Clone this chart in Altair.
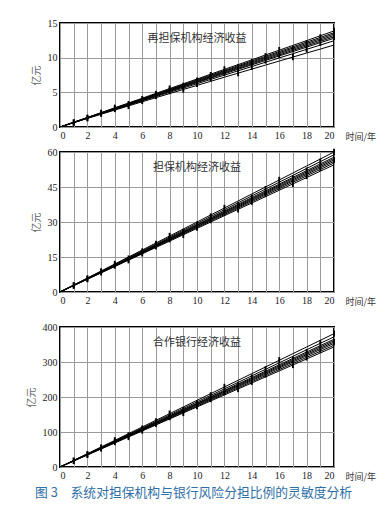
import altair as alt
import pandas as pd

years = list(range(21))

# Panel 1: 再担保机构经济收益 (亿元)
p1_series = [
    [0, 0.62, 1.24, 1.84, 2.44, 3.04, 3.64, 4.23, 4.82, 5.41, 6.00, 6.59, 7.18, 7.77, 8.35, 8.93, 9.51, 10.09, 10.67, 11.24, 11.82],
    [0, 0.63, 1.26, 1.89, 2.52, 3.14, 3.76, 4.38, 5.00, 5.62, 6.24, 6.86, 7.48, 8.10, 8.72, 9.34, 9.96, 10.58, 11.20, 11.82, 12.44],
    [0, 0.64, 1.28, 1.92, 2.56, 3.20, 3.84, 4.48, 5.12, 5.76, 6.40, 7.04, 7.68, 8.32, 8.96, 9.60, 10.24, 10.88, 11.52, 12.16, 12.80],
    [0, 0.65, 1.30, 1.95, 2.60, 3.25, 3.90, 4.55, 5.20, 5.85, 6.50, 7.15, 7.80, 8.45, 9.10, 9.75, 10.40, 11.05, 11.70, 12.35, 13.00],
    [0, 0.66, 1.32, 1.98, 2.64, 3.30, 3.96, 4.62, 5.28, 5.94, 6.60, 7.26, 7.92, 8.58, 9.24, 9.90, 10.56, 11.22, 11.88, 12.54, 13.20],
    [0, 0.67, 1.34, 2.01, 2.68, 3.35, 4.02, 4.69, 5.36, 6.03, 6.70, 7.37, 8.04, 8.71, 9.38, 10.05, 10.72, 11.39, 12.06, 12.73, 13.40],
    [0, 0.68, 1.36, 2.04, 2.72, 3.40, 4.08, 4.76, 5.44, 6.12, 6.80, 7.48, 8.16, 8.84, 9.52, 10.20, 10.88, 11.56, 12.24, 12.92, 13.60],
    [0, 0.69, 1.38, 2.08, 2.77, 3.46, 4.15, 4.85, 5.54, 6.23, 6.92, 7.62, 8.31, 9.00, 9.69, 10.39, 11.08, 11.77, 12.46, 13.16, 13.85],
]

# Panel 2: 担保机构经济收益 (亿元)
p2_series = [
    [0, 2.73, 5.45, 8.18, 10.90, 13.63, 16.35, 19.08, 21.80, 24.53, 27.25, 29.98, 32.70, 35.43, 38.15, 40.88, 43.60, 46.33, 49.05, 51.78, 54.50],
    [0, 2.77, 5.53, 8.30, 11.06, 13.83, 16.59, 19.36, 22.12, 24.89, 27.65, 30.42, 33.18, 35.95, 38.71, 41.48, 44.24, 47.01, 49.77, 52.54, 55.30],
    [0, 2.80, 5.60, 8.40, 11.20, 14.00, 16.80, 19.60, 22.40, 25.20, 28.00, 30.80, 33.60, 36.40, 39.20, 42.00, 44.80, 47.60, 50.40, 53.20, 56.00],
    [0, 2.83, 5.66, 8.49, 11.32, 14.15, 16.98, 19.81, 22.64, 25.47, 28.30, 31.13, 33.96, 36.79, 39.62, 42.45, 45.28, 48.11, 50.94, 53.77, 56.60],
    [0, 2.86, 5.72, 8.58, 11.44, 14.30, 17.16, 20.02, 22.88, 25.74, 28.60, 31.46, 34.32, 37.18, 40.04, 42.90, 45.76, 48.62, 51.48, 54.34, 57.20],
    [0, 2.89, 5.78, 8.67, 11.56, 14.45, 17.34, 20.23, 23.12, 26.01, 28.90, 31.79, 34.68, 37.57, 40.46, 43.35, 46.24, 49.13, 52.02, 54.91, 57.80],
    [0, 2.94, 5.88, 8.82, 11.76, 14.70, 17.64, 20.58, 23.52, 26.46, 29.40, 32.34, 35.28, 38.22, 41.16, 44.10, 47.04, 49.98, 52.92, 55.86, 58.80],
    [0, 3.00, 6.00, 9.00, 12.00, 15.00, 18.00, 21.00, 24.00, 27.00, 30.00, 33.00, 36.00, 39.00, 42.00, 45.00, 48.00, 51.00, 54.00, 57.00, 60.00],
]

# Panel 3: 合作银行经济收益 (亿元)
p3_series = [
    [0, 17.2, 34.3, 51.5, 68.6, 85.8, 102.9, 120.1, 137.2, 154.4, 171.5, 188.7, 205.8, 223.0, 240.1, 257.3, 274.4, 291.6, 308.7, 325.9, 343.0],
    [0, 17.4, 34.8, 52.2, 69.6, 87.0, 104.4, 121.8, 139.2, 156.6, 174.0, 191.4, 208.8, 226.2, 243.6, 261.0, 278.4, 295.8, 313.2, 330.6, 348.0],
    [0, 17.7, 35.3, 53.0, 70.6, 88.3, 105.9, 123.6, 141.2, 158.9, 176.5, 194.2, 211.8, 229.5, 247.1, 264.8, 282.4, 300.1, 317.7, 335.4, 353.0],
    [0, 17.9, 35.7, 53.6, 71.4, 89.3, 107.1, 125.0, 142.8, 160.7, 178.5, 196.4, 214.2, 232.1, 249.9, 267.8, 285.6, 303.5, 321.3, 339.2, 357.0],
    [0, 18.1, 36.1, 54.2, 72.2, 90.3, 108.3, 126.4, 144.4, 162.5, 180.5, 198.6, 216.6, 234.7, 252.7, 270.8, 288.8, 306.9, 324.9, 343.0, 361.0],
    [0, 18.3, 36.5, 54.8, 73.0, 91.3, 109.5, 127.8, 146.0, 164.3, 182.5, 200.8, 219.0, 237.3, 255.5, 273.8, 292.0, 310.3, 328.5, 346.8, 365.0],
    [0, 18.6, 37.2, 55.8, 74.4, 93.0, 111.6, 130.2, 148.8, 167.4, 186.0, 204.6, 223.2, 241.8, 260.4, 279.0, 297.6, 316.2, 334.8, 353.4, 372.0],
    [0, 19.1, 38.1, 57.2, 76.2, 95.3, 114.3, 133.4, 152.4, 171.5, 190.5, 209.6, 228.6, 247.7, 266.7, 285.8, 304.8, 323.9, 342.9, 362.0, 381.0],
]

panel_titles = ["再担保机构经济收益", "担保机构经济收益", "合作银行经济收益"]
y_ticks = [[0, 5, 10, 15], [0, 15, 30, 45, 60], [0, 100, 200, 300, 400]]
y_max = [15, 60, 400]
panel_heights = [104, 140, 140]
caption = "图 3　系统对担保机构与银行风险分担比例的灵敏度分析"

SERIF = "Liberation Serif"
CJK = "Noto Sans CJK SC"
W = 274


def long_df(series):
    rows = []
    for k, vals in enumerate(series):
        for t, v in zip(years, vals):
            rows.append({"t": t, "v": v, "k": k})
    return pd.DataFrame(rows)


def panel(series, title, ticks, ymax, h):
    df = long_df(series)
    x = alt.X(
        "t:Q",
        scale=alt.Scale(domain=[0, 20], nice=False),
        axis=alt.Axis(
            values=years,
            labelExpr="datum.value % 2 == 0 ? datum.label : ''",
            labelOverlap=False,
            grid=True, gridColor="#9a9a9a", gridWidth=1,
            ticks=False, domain=False, labelPadding=3,
            labelFont=SERIF, labelFontSize=10, labelColor="#222",
            title="时间/年", titleFont=CJK, titleFontSize=9,
            titleFontWeight="normal", titleColor="#333",
            titleX=W + 11, titleY=9, titleAlign="left",
            titleBaseline="middle",
        ),
    )
    y = alt.Y(
        "v:Q",
        scale=alt.Scale(domain=[0, ymax], nice=False),
        axis=alt.Axis(
            values=ticks, labelOverlap=False,
            grid=True, gridColor="#9a9a9a", gridWidth=1,
            ticks=False, domain=False, labelPadding=3,
            labelFont=SERIF, labelFontSize=10, labelColor="#222",
            title="亿元", titleFont=CJK, titleFontSize=10,
            titleFontWeight="normal", titleColor="#666", titlePadding=6,
        ),
    )
    base = alt.Chart(df)
    lines = base.mark_line(color="black", strokeWidth=1, clip=True).encode(
        x=x, y=y, detail="k:N"
    )
    marks = base.transform_filter(
        "datum.t > 0 && (datum.t + 3 * datum.k) % 4 == 1"
    ).mark_point(
        shape="M-0.3,-1H0.3V1H-0.3Z", filled=True, color="black",
        size=40, opacity=1,
    ).encode(x=x, y=y)
    label = alt.Chart(pd.DataFrame({"label": [title]})).mark_text(
        font=CJK, fontSize=11, color="#333"
    ).encode(text="label:N", x=alt.value(W / 2), y=alt.value(16))
    return alt.layer(lines, marks, label).properties(width=W, height=h)


p1 = panel(p1_series, panel_titles[0], y_ticks[0], y_max[0], panel_heights[0])
p2 = panel(p2_series, panel_titles[1], y_ticks[1], y_max[1], panel_heights[1])
p3 = panel(p3_series, panel_titles[2], y_ticks[2], y_max[2], panel_heights[2])

chart = alt.vconcat(
    alt.vconcat(p1, p2, spacing=4), p3, spacing=14
).properties(
    title=alt.TitleParams(
        caption, orient="bottom", anchor="start", font=CJK,
        fontSize=12.8, fontWeight="normal", color="#2f6fa8", offset=5,
        dx=10,
    ),
    padding={"left": 17, "top": 9, "right": 0, "bottom": 0},
).configure_view(stroke="black", strokeWidth=2)

chart.save("out.html", embed_options={"renderer": "svg", "actions": False})
